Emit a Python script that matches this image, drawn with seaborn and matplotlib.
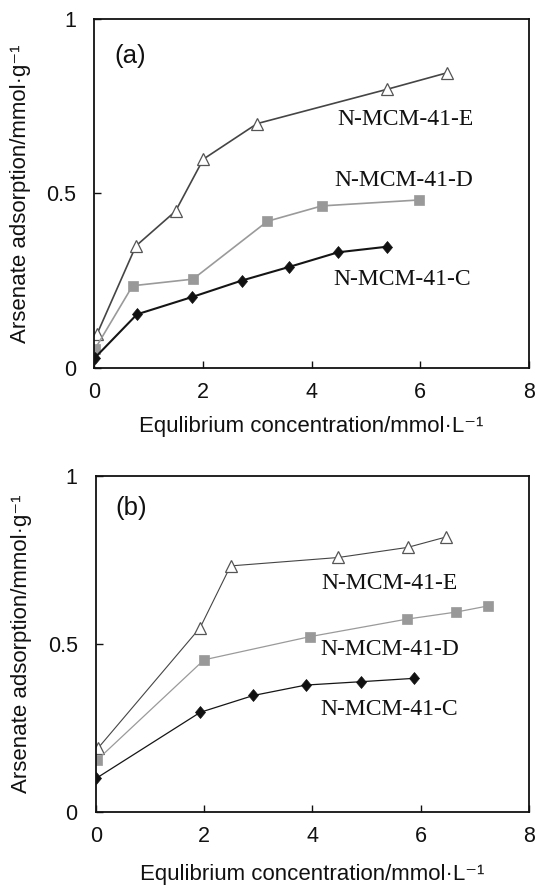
import matplotlib
matplotlib.use("Agg")
import matplotlib.pyplot as plt
from matplotlib.markers import MarkerStyle
from matplotlib.transforms import Affine2D
import seaborn as sns
import pandas as pd

# ---------------- data ----------------
series_names = ["N-MCM-41-E", "N-MCM-41-D", "N-MCM-41-C"]

# panel (a)
a_E_x = [0.06, 0.77, 1.50, 2.01, 3.00, 5.38, 6.50]
a_E_y = [0.098, 0.349, 0.449, 0.598, 0.700, 0.798, 0.846]
a_D_x = [0.02, 0.71, 1.82, 3.19, 4.19, 5.98]
a_D_y = [0.054, 0.235, 0.254, 0.420, 0.464, 0.481]
a_C_x = [0.02, 0.79, 1.81, 2.72, 3.59, 4.49, 5.39]
a_C_y = [0.029, 0.153, 0.203, 0.250, 0.289, 0.331, 0.347]

# panel (b)
b_E_x = [0.04, 1.93, 2.49, 4.48, 5.76, 6.47]
b_E_y = [0.190, 0.549, 0.732, 0.757, 0.787, 0.818]
b_D_x = [0.03, 2.00, 3.96, 5.75, 6.66, 7.24]
b_D_y = [0.156, 0.453, 0.522, 0.574, 0.595, 0.613]
b_C_x = [0.01, 1.93, 2.91, 3.88, 4.90, 5.88]
b_C_y = [0.101, 0.297, 0.347, 0.378, 0.388, 0.398]

x_ticks = [0, 2, 4, 6, 8]
x_tick_labels = ["0", "2", "4", "6", "8"]
y_ticks = [0, 0.5, 1]
y_tick_labels = ["0", "0.5", "1"]

x_label = "Equlibrium concentration/mmol\u00b7L\u207b\u00b9"
y_label = "Arsenate adsorption/mmol\u00b7g\u207b\u00b9"
panel_tags = ["(a)", "(b)"]

# label positions (data coords, left edge / vertical centre)
a_label_pos = {"N-MCM-41-E": (4.48, 0.712), "N-MCM-41-D": (4.42, 0.538), "N-MCM-41-C": (4.41, 0.253)}
b_label_pos = {"N-MCM-41-E": (4.16, 0.679), "N-MCM-41-D": (4.15, 0.483), "N-MCM-41-C": (4.15, 0.306)}

# ---------------- style ----------------
sns.set_theme(style="ticks")
plt.rcParams["font.family"] = ["Liberation Sans", "DejaVu Sans"]

diamond = MarkerStyle("D", transform=Affine2D().scale(0.78, 1.0))

styles = {
    "N-MCM-41-E": dict(color="#454545", marker="^", markersize=8.5, markerfacecolor="white",
                       markeredgecolor="#555555", markeredgewidth=0.9),
    "N-MCM-41-D": dict(color="#9a9a9a", marker="s", markersize=6.5, markerfacecolor="#999999",
                       markeredgecolor="#999999", markeredgewidth=0.5),
    "N-MCM-41-C": dict(color="#151515", marker=diamond, markersize=6.5, markerfacecolor="#111111",
                       markeredgecolor="#111111", markeredgewidth=0.5),
}

fig = plt.figure(figsize=(5.35, 8.85), dpi=100)
W, H = 535.0, 885.0
ax_a = fig.add_axes([94 / W, 1 - 367.7 / H, (529 - 94) / W, (367.7 - 19) / H])
ax_b = fig.add_axes([95.7 / W, 1 - 812.3 / H, (529 - 95.7) / W, (812.3 - 475.7) / H])

panels = [
    (ax_a, {"N-MCM-41-E": (a_E_x, a_E_y), "N-MCM-41-D": (a_D_x, a_D_y), "N-MCM-41-C": (a_C_x, a_C_y)},
     a_label_pos, {"N-MCM-41-E": 1.2, "N-MCM-41-D": 1.2, "N-MCM-41-C": 1.5}, 10),
    (ax_b, {"N-MCM-41-E": (b_E_x, b_E_y), "N-MCM-41-D": (b_D_x, b_D_y), "N-MCM-41-C": (b_C_x, b_C_y)},
     b_label_pos, {"N-MCM-41-E": 0.8, "N-MCM-41-D": 0.9, "N-MCM-41-C": 0.9}, 12),
]

for (ax, data, lpos, lws, xpad), tag in zip(panels, panel_tags):
    for name in series_names:
        xs, ys = data[name]
        df = pd.DataFrame({"x": xs, "y": ys})
        sns.lineplot(data=df, x="x", y="y", ax=ax, sort=False, estimator=None,
                     linewidth=lws[name], **styles[name])
        tx, ty = lpos[name]
        ax.text(tx, ty, name, fontsize=17, va="center", ha="left",
                family=["Liberation Serif", "DejaVu Serif"], color="#111111")
    ax.text(0.37, 0.893 if tag == "(a)" else 0.903, tag, fontsize=18.5, va="center", ha="left", color="#111111")
    ax.set_xlim(0, 8)
    ax.set_ylim(0, 1)
    ax.set_xticks(x_ticks)
    ax.set_xticklabels(x_tick_labels)
    ax.set_yticks(y_ticks)
    ax.set_yticklabels(y_tick_labels)
    ax.tick_params(axis="both", direction="in", length=5, width=1.0, labelsize=15.5,
                   colors="#111111")
    ax.tick_params(axis="x", pad=10)
    ax.tick_params(axis="y", pad=13)
    ax.set_xlabel(x_label, fontsize=16, labelpad=xpad, color="#111111")
    ax.set_ylabel(y_label, fontsize=16, labelpad=11, color="#111111")
    for sp in ax.spines.values():
        sp.set_visible(True)
        sp.set_linewidth(1.3)
        sp.set_color("#111111")
    ax.set_facecolor("white")

fig.savefig("out.png", dpi=100, facecolor="white")
